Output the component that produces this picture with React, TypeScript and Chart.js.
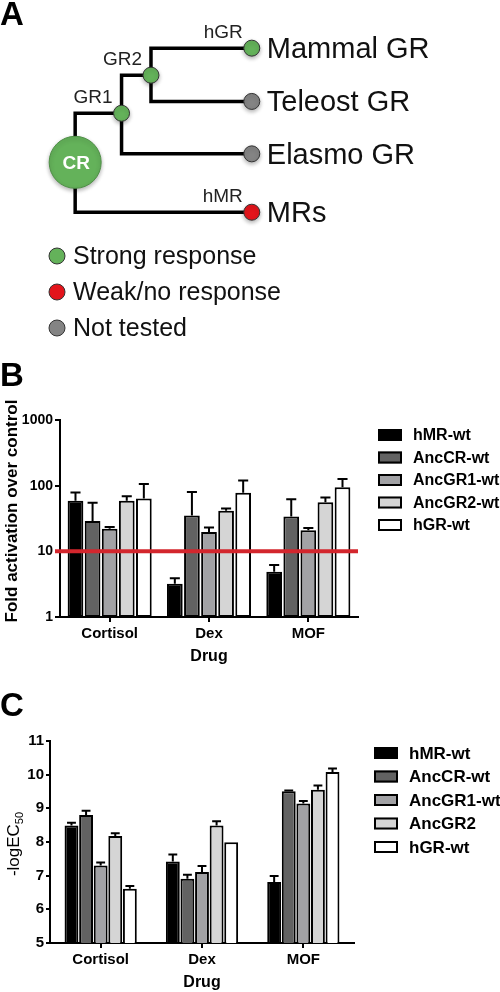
import React, { useEffect, useRef } from "react";
import { Chart, registerables } from "chart.js";
Chart.register(...registerables);

const FONT = "'Liberation Sans', Arial, Helvetica, sans-serif";

// ---------- Panel A: tree (layout units) ----------
const NODE_NAMES = ["CR", "GR1", "GR2", "Mammal", "Teleost", "Elasmo", "MRs"];
const NODE_X = [54, 106, 139, 252, 252, 252, 252];
const NODE_Y = [160, 102, 57, 25, 88, 150, 219];
const NODE_PARENT = [-1, 0, 1, 2, 2, 1, 0];
const NODE_STATUS = [0, 0, 0, 0, 2, 2, 1]; // 0 strong, 1 weak, 2 not tested
const NODE_SMALL_LABEL = ["", "GR1", "GR2", "hGR", "", "", "hMR"];
const NODE_LEAF_LABEL = ["", "", "", "Mammal GR", "Teleost GR", "Elasmo GR", "MRs"];
const STATUS_LABELS = ["Strong response", "Weak/no response", "Not tested"];
const STATUS_COLORS = ["#64b25a", "#e3141b", "#848484"];

// ---------- Panels B & C: bar data ----------
const CATEGORIES = ["Cortisol", "Dex", "MOF"];
const SERIES_COLORS = ["#000000", "#626262", "#a2a2a5", "#d5d5d5", "#ffffff"];

const B_LABELS = ["hMR-wt", "AncCR-wt", "AncGR1-wt", "AncGR2-wt", "hGR-wt"];
const B_HMR = [59, 3.2, 4.9];
const B_ANCCR = [29, 35, 34];
const B_ANCGR1 = [22, 19.7, 21];
const B_ANCGR2 = [59, 41.5, 56];
const B_HGR = [64, 78, 95];
const B_HMR_ERR = [20, 0.7, 1.3];
const B_ANCCR_ERR = [26, 45, 28];
const B_ANCGR1_ERR = [1.5, 3.3, 1.6];
const B_ANCGR2_ERR = [10, 3.5, 10];
const B_HGR_ERR = [42, 42, 31];
const B_Y_TICKS = [1, 10, 100, 1000];
const B_THRESHOLD = 10;

const C_LABELS = ["hMR-wt", "AncCR-wt", "AncGR1-wt", "AncGR2", "hGR-wt"];
const C_HMR = [8.49, 7.42, 6.81];
const C_ANCCR = [8.8, 6.91, 9.51];
const C_ANCGR1 = [7.3, 7.11, 9.14];
const C_ANCGR2 = [8.18, 8.49, 9.55];
const C_HGR = [6.61, 7.99, 10.08];
const C_HMR_ERR = [0.08, 0.21, 0.18];
const C_ANCCR_ERR = [0.13, 0.12, 0.02];
const C_ANCGR1_ERR = [0.09, 0.18, 0.08];
const C_ANCGR2_ERR = [0.08, 0.13, 0.13];
const C_HGR_ERR = [0.08, 0, 0.1];

// ---------- helpers ----------
function panelLetter(ctx: CanvasRenderingContext2D, letter: string, y: number) {
  ctx.save();
  ctx.fillStyle = "#000";
  ctx.font = `bold 33px ${FONT}`;
  ctx.textAlign = "left";
  ctx.textBaseline = "alphabetic";
  ctx.fillText(letter, 0, y);
  ctx.restore();
}

function makeErrorPlugin(errs: number[][]) {
  return {
    id: "errbars",
    afterDatasetsDraw(chart: any) {
      const ctx = chart.ctx;
      const yS = chart.scales.y;
      ctx.save();
      ctx.strokeStyle = "#000";
      ctx.lineWidth = 2;
      chart.data.datasets.forEach((ds: any, i: number) => {
        const meta = chart.getDatasetMeta(i);
        meta.data.forEach((el: any, j: number) => {
          const e = errs[i][j];
          if (!e) return;
          const top = yS.getPixelForValue(ds.data[j] + e);
          const half = el.width * 0.32;
          ctx.beginPath();
          ctx.moveTo(el.x, el.y);
          ctx.lineTo(el.x, top);
          ctx.moveTo(el.x - half, top);
          ctx.lineTo(el.x + half, top);
          ctx.stroke();
        });
      });
      ctx.restore();
    },
  };
}

function makeLegendPlugin(x0: number, textX: number, y0: number, dy: number, fontSize: number) {
  return {
    id: "customLegend",
    afterDraw(chart: any) {
      const ctx = chart.ctx;
      ctx.save();
      chart.data.datasets.forEach((ds: any, i: number) => {
        const y = y0 + i * dy;
        ctx.fillStyle = ds.backgroundColor;
        ctx.fillRect(x0, y - 6, 24, 12);
        ctx.strokeStyle = "#000";
        ctx.lineWidth = 2;
        ctx.strokeRect(x0 + 1, y - 5, 22, 10);
        ctx.fillStyle = "#000";
        ctx.font = `bold ${fontSize}px ${FONT}`;
        ctx.textAlign = "left";
        ctx.textBaseline = "middle";
        ctx.fillText(ds.label, textX, y + 1);
      });
      ctx.restore();
    },
  };
}

function barDatasets(labels: string[], series: number[][], barPct: number, catPct: number) {
  return series.map((d, i) => ({
    label: labels[i],
    data: d,
    backgroundColor: SERIES_COLORS[i],
    borderColor: "#000",
    borderWidth: 2,
    borderSkipped: false as const,
    barPercentage: barPct,
    categoryPercentage: catPct,
  }));
}

function axisCommon(tickLength: number) {
  return {
    grid: {
      display: true,
      drawOnChartArea: false,
      drawTicks: true,
      tickLength,
      offset: false,
      color: "#000",
      lineWidth: 2,
    },
    border: { display: true, color: "#000", width: 2 },
  };
}

// ---------- configs ----------
function configA(): any {
  const edgeDatasets = NODE_PARENT.map((p, c) => {
    if (p < 0) return null;
    return {
      data: [
        { x: NODE_X[p], y: NODE_Y[p] },
        { x: NODE_X[p], y: NODE_Y[c] },
        { x: NODE_X[c], y: NODE_Y[c] },
      ],
      showLine: true,
      borderColor: "#000",
      borderWidth: 3.5,
      borderJoinStyle: "miter",
      borderCapStyle: "butt",
      pointRadius: 0,
      order: 1,
      clip: false,
    };
  }).filter(Boolean);
  const nodeDataset = {
    data: NODE_X.map((x, i) => ({ x, y: NODE_Y[i] })),
    pointRadius: NODE_NAMES.map((_, i) => (NODE_PARENT[i] < 0 ? 26 : 8)),
    pointBackgroundColor: NODE_STATUS.map((s) => STATUS_COLORS[s]),
    pointBorderColor: NODE_PARENT.map((p) => (p < 0 ? "#4f8f47" : "#333")),
    pointBorderWidth: 1,
    showLine: false,
    order: 0,
    clip: false,
  };
  const shadowPlugin = {
    id: "nodeShadow",
    beforeDatasetDraw(chart: any, args: any) {
      if (args.index !== 0) return;
      const ctx = chart.ctx;
      ctx.save();
      ctx.shadowColor = "rgba(0,0,0,0.3)";
      ctx.shadowBlur = 4;
      ctx.shadowOffsetY = 2;
    },
    afterDatasetDraw(chart: any, args: any) {
      if (args.index !== 0) return;
      chart.ctx.restore();
    },
  };
  const labelsPlugin = {
    id: "treeLabels",
    afterDraw(chart: any) {
      const ctx = chart.ctx;
      const xs = chart.scales.x;
      const ys = chart.scales.y;
      ctx.save();
      NODE_NAMES.forEach((name, i) => {
        const px = xs.getPixelForValue(NODE_X[i]);
        const py = ys.getPixelForValue(NODE_Y[i]);
        if (NODE_PARENT[i] < 0) {
          ctx.fillStyle = "#fff";
          ctx.font = `bold 19px ${FONT}`;
          ctx.textAlign = "center";
          ctx.textBaseline = "middle";
          ctx.fillText(name, px + 1, py + 1);
        }
        if (NODE_SMALL_LABEL[i]) {
          ctx.fillStyle = "#222";
          ctx.font = `19px ${FONT}`;
          ctx.textAlign = "right";
          ctx.textBaseline = "middle";
          ctx.fillText(NODE_SMALL_LABEL[i], px - 9, py - 15);
        }
        if (NODE_LEAF_LABEL[i]) {
          ctx.fillStyle = "#111";
          ctx.font = `29px ${FONT}`;
          ctx.textAlign = "left";
          ctx.textBaseline = "middle";
          ctx.fillText(NODE_LEAF_LABEL[i], px + 15, py + 2);
        }
      });
      // legend
      STATUS_LABELS.forEach((lab, i) => {
        const y = 256 + i * 36;
        ctx.beginPath();
        ctx.arc(57, y, 8, 0, Math.PI * 2);
        ctx.fillStyle = STATUS_COLORS[i];
        ctx.fill();
        ctx.strokeStyle = "#333";
        ctx.lineWidth = 1;
        ctx.stroke();
        ctx.fillStyle = "#111";
        ctx.font = `25px ${FONT}`;
        ctx.textAlign = "left";
        ctx.textBaseline = "middle";
        ctx.fillText(lab, 73, y + 1);
      });
      ctx.restore();
      panelLetter(ctx, "A", 25);
    },
  };
  return {
    type: "scatter",
    data: { datasets: [nodeDataset, ...edgeDatasets] },
    options: {
      animation: false,
      responsive: false,
      devicePixelRatio: 1,
      events: [],
      layout: { padding: 0 },
      scales: {
        x: { type: "linear", min: 0, max: 500, display: false },
        y: { type: "linear", min: 0, max: 350, reverse: true, display: false },
      },
      plugins: { legend: { display: false }, tooltip: { enabled: false } },
    },
    plugins: [shadowPlugin, labelsPlugin],
  };
}

function configB(): any {
  const series = [B_HMR, B_ANCCR, B_ANCGR1, B_ANCGR2, B_HGR];
  const errs = [B_HMR_ERR, B_ANCCR_ERR, B_ANCGR1_ERR, B_ANCGR2_ERR, B_HGR_ERR];
  const thresholdPlugin = {
    id: "threshold",
    afterDatasetsDraw(chart: any) {
      const ctx = chart.ctx;
      const y = chart.scales.y.getPixelForValue(B_THRESHOLD);
      ctx.save();
      ctx.strokeStyle = "#d3262d";
      ctx.lineWidth = 4;
      ctx.beginPath();
      ctx.moveTo(chart.chartArea.left - 5, y);
      ctx.lineTo(chart.chartArea.right, y);
      ctx.stroke();
      ctx.restore();
    },
  };
  const titlePlugin = {
    id: "titlesB",
    afterDraw(chart: any) {
      const ctx = chart.ctx;
      ctx.save();
      ctx.translate(12, 161);
      ctx.rotate(-Math.PI / 2);
      ctx.fillStyle = "#000";
      ctx.font = `bold 17px ${FONT}`;
      ctx.textAlign = "center";
      ctx.textBaseline = "middle";
      ctx.fillText("Fold activation over control", 0, 0);
      ctx.restore();
      panelLetter(ctx, "B", 36);
    },
  };
  return {
    type: "bar",
    data: { labels: CATEGORIES, datasets: barDatasets(B_LABELS, series, 0.92, 0.86) },
    options: {
      animation: false,
      responsive: false,
      devicePixelRatio: 1,
      events: [],
      layout: { padding: { left: 0, right: 142, top: 70, bottom: 0 } },
      scales: {
        x: {
          ...axisCommon(5),
          ticks: { color: "#000", font: { family: FONT, size: 15, weight: "bold" }, padding: 3, maxRotation: 0, autoSkip: false },
          title: { display: true, text: "Drug", color: "#000", font: { family: FONT, size: 16, weight: "bold" }, padding: { top: 0, bottom: 24 } },
          afterFit: (s: any) => { s.height = 73; },
        },
        y: {
          type: "logarithmic",
          min: 1,
          max: 1000,
          ...axisCommon(5),
          afterBuildTicks: (s: any) => { s.ticks = B_Y_TICKS.map((v) => ({ value: v, major: true })); },
          ticks: { color: "#000", font: { family: FONT, size: 14, weight: "bold" }, padding: 2, callback: (v: any) => String(v) },
          afterFit: (s: any) => { s.width = 60; },
        },
      },
      plugins: { legend: { display: false }, tooltip: { enabled: false } },
    },
    plugins: [makeErrorPlugin(errs), thresholdPlugin, makeLegendPlugin(378, 413, 85, 22.5, 16), titlePlugin],
  };
}

function configC(): any {
  const series = [C_HMR, C_ANCCR, C_ANCGR1, C_ANCGR2, C_HGR];
  const errs = [C_HMR_ERR, C_ANCCR_ERR, C_ANCGR1_ERR, C_ANCGR2_ERR, C_HGR_ERR];
  const titlePlugin = {
    id: "titlesC",
    afterDraw(chart: any) {
      const ctx = chart.ctx;
      ctx.save();
      ctx.translate(13, 154);
      ctx.rotate(-Math.PI / 2);
      ctx.fillStyle = "#000";
      ctx.textBaseline = "alphabetic";
      ctx.textAlign = "left";
      const main = "-logEC";
      const sub = "50";
      ctx.font = `17px ${FONT}`;
      const w1 = ctx.measureText(main).width;
      ctx.font = `11px ${FONT}`;
      const w2 = ctx.measureText(sub).width;
      const start = -(w1 + w2) / 2;
      ctx.font = `17px ${FONT}`;
      ctx.fillText(main, start, 6);
      ctx.font = `11px ${FONT}`;
      ctx.fillText(sub, start + w1, 10);
      ctx.restore();
      panelLetter(ctx, "C", 25.5);
    },
  };
  return {
    type: "bar",
    data: { labels: CATEGORIES, datasets: barDatasets(C_LABELS, series, 0.95, 0.72) },
    options: {
      animation: false,
      responsive: false,
      devicePixelRatio: 1,
      events: [],
      layout: { padding: { left: 0, right: 146, top: 51, bottom: 0 } },
      scales: {
        x: {
          ...axisCommon(5),
          ticks: { color: "#000", font: { family: FONT, size: 15, weight: "bold" }, padding: 3, maxRotation: 0, autoSkip: false },
          title: { display: true, text: "Drug", color: "#000", font: { family: FONT, size: 16, weight: "bold" }, padding: { top: 0, bottom: 0 } },
          afterFit: (s: any) => { s.height = 49; },
        },
        y: {
          type: "linear",
          min: 5,
          max: 11,
          ...axisCommon(4),
          ticks: { color: "#000", font: { family: FONT, size: 15, weight: "bold" }, padding: 2, stepSize: 1 },
          afterFit: (s: any) => { s.width = 50; },
        },
      },
      plugins: { legend: { display: false }, tooltip: { enabled: false } },
    },
    plugins: [makeErrorPlugin(errs), makeLegendPlugin(374, 409, 63, 23.5, 17), titlePlugin],
  };
}

function ChartCanvas({ top, height, make }: { top: number; height: number; make: () => any }) {
  const ref = useRef<HTMLCanvasElement>(null);
  useEffect(() => {
    const chart = new Chart(ref.current as HTMLCanvasElement, make());
    return () => chart.destroy();
  }, []);
  return (
    <canvas
      ref={ref}
      width={500}
      height={height}
      style={{ position: "absolute", left: 0, top, width: 500, height, display: "block" }}
    />
  );
}

export default function App() {
  return (
    <div style={{ position: "absolute", left: 0, top: 0, width: 500, height: 992, background: "#fff", overflow: "hidden" }}>
      <ChartCanvas top={0} height={350} make={configA} />
      <ChartCanvas top={350} height={340} make={configB} />
      <ChartCanvas top={690} height={302} make={configC} />
    </div>
  );
}
